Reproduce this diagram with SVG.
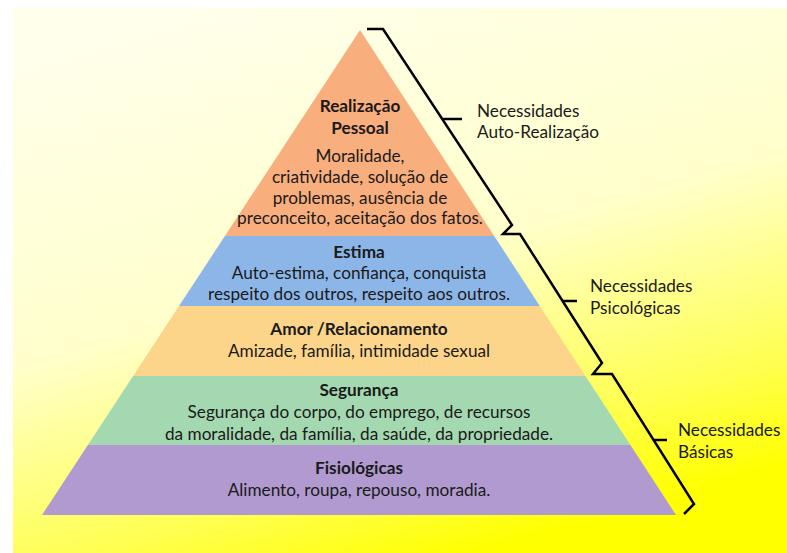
<svg xmlns="http://www.w3.org/2000/svg" width="787" height="553" viewBox="0 0 787 553">
  <defs>
    <linearGradient id="bg" x1="0.2" y1="0" x2="0.6" y2="1">
      <stop offset="0" stop-color="#FFFFEC"/>
      <stop offset="0.5" stop-color="#FFFFCC"/>
      <stop offset="0.82" stop-color="#FFFF55"/>
      <stop offset="1" stop-color="#FFFF00"/>
    </linearGradient>
  </defs>
  <style>
    text { font-family: Lato, "Liberation Sans", sans-serif; font-size: 17.2px; fill: #1a1a1a; text-anchor: middle; }
    .h { font-weight: bold; }
    .lbl { text-anchor: start; }
    .br { fill: none; stroke: #000; stroke-width: 2.5; stroke-linejoin: miter; }
  </style>
  <rect x="0" y="0" width="787" height="553" fill="#FFFFFF"/>
  <rect x="13" y="8" width="774" height="545" fill="url(#bg)"/>

  <g id="realizacao">
    <polygon points="360,30 494.2,236 224.9,236" fill="#F9AE7E"/>
    <text class="h" x="360" y="112">Realização</text>
    <text class="h" x="360" y="134">Pessoal</text>
    <text x="360" y="162">Moralidade,</text>
    <text x="360" y="183">criatividade, solução de</text>
    <text x="360" y="204">problemas, ausência de</text>
    <text x="360" y="224">preconceito, aceitação dos fatos.</text>
  </g>
  <g id="estima">
    <polygon points="224.9,236 494.2,236 539.8,306 179,306" fill="#8DB6E8"/>
    <text class="h" x="359" y="258">Estima</text>
    <text x="359" y="279">Auto-estima, confiança, conquista</text>
    <text x="359" y="300">respeito dos outros, respeito aos outros.</text>
  </g>
  <g id="amor">
    <polygon points="179,306 539.8,306 585.4,376 133.1,376" fill="#FCD58A"/>
    <text class="h" x="359" y="335">Amor /Relacionamento</text>
    <text x="359" y="357">Amizade, família, intimidade sexual</text>
  </g>
  <g id="seguranca">
    <polygon points="133.1,376 585.4,376 630.4,445 87.9,445" fill="#A4D8B0"/>
    <text class="h" x="359" y="396">Segurança</text>
    <text x="359" y="418">Segurança do corpo, do emprego, de recursos</text>
    <text x="359" y="440">da moralidade, da família, da saúde, da propriedade.</text>
  </g>
  <g id="fisiologicas">
    <polygon points="87.9,445 630.4,445 676,515 42,515" fill="#B09ACF"/>
    <text class="h" x="359" y="474">Fisiológicas</text>
    <text x="359" y="496">Alimento, roupa, repouso, moradia.</text>
  </g>

  <g id="connectors">
    <path class="br" d="M367,29 H383 L512,225 L503,234 H520 L602,363 L593,374 H612 L694,504 L684,514"/>
    <path class="br" d="M443,119 H462"/>
    <path class="br" d="M562,301 H577"/>
    <path class="br" d="M654,440 H667"/>
  </g>

  <g id="label-auto">
    <text class="lbl" x="477" y="117">Necessidades</text>
    <text class="lbl" x="477" y="138">Auto-Realização</text>
  </g>
  <g id="label-psico">
    <text class="lbl" x="590" y="292">Necessidades</text>
    <text class="lbl" x="590" y="314">Psicológicas</text>
  </g>
  <g id="label-basicas">
    <text class="lbl" x="678" y="436">Necessidades</text>
    <text class="lbl" x="678" y="458">Básicas</text>
  </g>
</svg>
